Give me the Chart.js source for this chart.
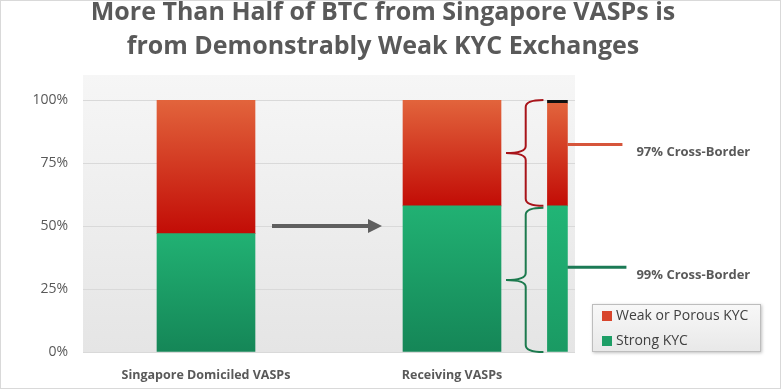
<!DOCTYPE html>
<html>
<head>
<meta charset="utf-8">
<script src="https://cdn.jsdelivr.net/npm/chart.js@4"></script>
<style>
  html, body { margin: 0; padding: 0; background: #fff; }
  #wrap { position: relative; width: 781px; height: 389px; }
</style>
</head>
<body>
<div id="wrap"><canvas id="chartKyc"></canvas></div>
<script>
// Dados
const categories = ["Singapore Domiciled VASPs", "Receiving VASPs"];
const strongKyc = [47, 58];
const weakKyc = [53, 42];
// barra fina: quebra dos VASPs receptores
const thinStrong = 58;
const thinWeakCrossBorder = 40.7;
const thinWeakDomestic = 1.3;
const crossBorderLabels = ["97% Cross-Border", "99% Cross-Border"];
const yTicks = [0, 25, 50, 75, 100];
const titleLines = [
  "More Than Half of BTC from Singapore VASPs is",
  "from Demonstrably Weak KYC Exchanges",
];

// posição das barras em "slots" do eixo de categorias
const SLOT_COUNT = 14;
const barSlots = [3, 10];
const thinSlot = 13;

const TEXT = "#595959";
const FONT = "'Open Sans', sans-serif";
const RED_TOP = "#e2643c", RED_BOTTOM = "#c20c06";
const GREEN_TOP = "#21b173", GREEN_BOTTOM = "#158657";

function slotArray(fill) {
  const arr = new Array(SLOT_COUNT).fill(null);
  fill(arr);
  return arr;
}

const labels = new Array(SLOT_COUNT).fill("");
barSlots.forEach((s, i) => (labels[s] = categories[i]));

function stackGradient(context, top, bottom) {
  if (context.type !== "data") return bottom;
  const chart = context.chart;
  const y = chart.scales.y;
  if (!y || !chart.chartArea) return bottom;
  const i = context.dataIndex;
  const d = context.datasetIndex;
  let base = 0;
  for (let k = 0; k < d; k++) base += chart.data.datasets[k].data[i] || 0;
  const v = chart.data.datasets[d].data[i] || 0;
  const y0 = y.getPixelForValue(base + v);
  const y1 = y.getPixelForValue(base);
  if (!isFinite(y0) || !isFinite(y1) || y0 === y1) return bottom;
  const g = chart.ctx.createLinearGradient(0, y0, 0, y1);
  g.addColorStop(0, top);
  g.addColorStop(1, bottom);
  return g;
}

function drawBrace(ctx, xEnd, xTip, y1, y2, color) {
  const xm = (xEnd + xTip) / 2 + 1;
  const ym = (y1 + y2) / 2;
  const r = 7;
  ctx.strokeStyle = color;
  ctx.lineWidth = 2;
  ctx.beginPath();
  ctx.moveTo(xEnd, y1);
  ctx.quadraticCurveTo(xm, y1, xm, y1 + r);
  ctx.lineTo(xm, ym - r);
  ctx.quadraticCurveTo(xm, ym, xTip, ym);
  ctx.quadraticCurveTo(xm, ym, xm, ym + r);
  ctx.lineTo(xm, y2 - r);
  ctx.quadraticCurveTo(xm, y2, xEnd, y2);
  ctx.stroke();
}

const decorPlugin = {
  id: "decor",
  beforeDraw(chart) {
    const { ctx, chartArea: a } = chart;
    ctx.save();
    ctx.fillStyle = "#fff";
    ctx.fillRect(0, 0, chart.width, chart.height);
    const g = ctx.createLinearGradient(0, a.top - 25, 0, a.bottom);
    g.addColorStop(0, "#f6f6f6");
    g.addColorStop(1, "#e5e5e5");
    ctx.fillStyle = g;
    ctx.fillRect(a.left, a.top - 25, a.right - a.left, a.bottom - a.top + 25);
    ctx.strokeStyle = "#d9d9d9";
    ctx.lineWidth = 1;
    ctx.strokeRect(0.5, 0.5, chart.width - 1, chart.height - 1);

    // título
    ctx.fillStyle = TEXT;
    ctx.font = "bold 25px " + FONT;
    ctx.textAlign = "center";
    ctx.textBaseline = "alphabetic";
    titleLines.forEach((t, i) => ctx.fillText(t, 383, 20 + i * 34));
    ctx.restore();
  },
  afterDatasetsDraw(chart) {
    const { ctx } = chart;
    const y = chart.scales.y;
    const bar1 = chart.getDatasetMeta(0).data[barSlots[0]];
    const bar2 = chart.getDatasetMeta(0).data[barSlots[1]];
    const thin = chart.getDatasetMeta(2).data[thinSlot];
    const thinTop = chart.getDatasetMeta(4).data[thinSlot];
    ctx.save();

    // seta cinza
    const ay = y.getPixelForValue(50);
    const ax0 = bar1.x + bar1.width / 2 + 17;
    const ax1 = bar2.x - bar2.width / 2 - 21;
    ctx.strokeStyle = "#5f5f5f";
    ctx.fillStyle = "#5f5f5f";
    ctx.lineWidth = 4;
    ctx.beginPath();
    ctx.moveTo(ax0, ay);
    ctx.lineTo(ax1 - 12, ay);
    ctx.stroke();
    ctx.beginPath();
    ctx.moveTo(ax1, ay);
    ctx.lineTo(ax1 - 14, ay - 7);
    ctx.lineTo(ax1 - 14, ay + 7);
    ctx.closePath();
    ctx.fill();

    // chaves
    const thinLeft = thin.x - thin.width / 2;
    const thinRight = thin.x + thin.width / 2;
    const bar2Right = bar2.x + bar2.width / 2;
    const split = thin.y;
    const top = thinTop.y;
    const bottom = y.getPixelForValue(0);
    drawBrace(ctx, thinLeft - 4, bar2Right + 5, top, split, "#a8141a");
    drawBrace(ctx, thinLeft - 4, bar2Right + 5, split + 2, bottom, "#1c7a4e");

    // conectores e rótulos
    const redY = top + 0.42 * (split - top);
    const greenY = split + 0.42 * (bottom - split);
    ctx.lineWidth = 3;
    ctx.strokeStyle = "#d6553b";
    ctx.beginPath();
    ctx.moveTo(thinRight, redY);
    ctx.lineTo(thinRight + 55, redY);
    ctx.stroke();
    ctx.strokeStyle = "#1b7a55";
    ctx.beginPath();
    ctx.moveTo(thinRight, greenY);
    ctx.lineTo(thinRight + 59, greenY);
    ctx.stroke();

    ctx.fillStyle = TEXT;
    ctx.font = "bold 13px " + FONT;
    ctx.textBaseline = "middle";
    ctx.textAlign = "left";
    ctx.fillText(crossBorderLabels[0], thinRight + 69, redY + 8);
    ctx.fillText(crossBorderLabels[1], thinRight + 69, greenY + 8);

    // legenda
    const lx = 592, ly = 304, lw = 169, lh = 48;
    ctx.shadowColor = "rgba(0,0,0,0.25)";
    ctx.shadowBlur = 3;
    ctx.shadowOffsetX = 1;
    ctx.shadowOffsetY = 1;
    const lg = ctx.createLinearGradient(0, ly, 0, ly + lh);
    lg.addColorStop(0, "#f8f8f8");
    lg.addColorStop(1, "#e8e8e8");
    ctx.fillStyle = lg;
    ctx.fillRect(lx, ly, lw, lh);
    ctx.shadowColor = "transparent";
    ctx.strokeStyle = "#bdbdbd";
    ctx.lineWidth = 1;
    ctx.strokeRect(lx + 0.5, ly + 0.5, lw - 1, lh - 1);
    const items = [
      { text: chart.data.datasets[1].label, color: "#d8452c" },
      { text: chart.data.datasets[0].label, color: "#1d9e66" },
    ];
    ctx.font = "14px " + FONT;
    items.forEach((it, i) => {
      const cy = ly + 12 + i * 25;
      ctx.fillStyle = it.color;
      ctx.fillRect(lx + 10, cy - 5, 10, 10);
      ctx.fillStyle = "#404040";
      ctx.fillText(it.text, lx + 24, cy);
    });
    ctx.restore();
  },
};

const ctxKyc = document.getElementById("chartKyc");
new Chart(ctxKyc.getContext("2d"), {
  type: "bar",
  data: {
    labels: labels,
    datasets: [
      {
        label: "Strong KYC",
        data: slotArray((a) => barSlots.forEach((s, i) => (a[s] = strongKyc[i]))),
        backgroundColor: (c) => stackGradient(c, GREEN_TOP, GREEN_BOTTOM),
        barThickness: 98,
      },
      {
        label: "Weak or Porous KYC",
        data: slotArray((a) => barSlots.forEach((s, i) => (a[s] = weakKyc[i]))),
        backgroundColor: (c) => stackGradient(c, RED_TOP, RED_BOTTOM),
        barThickness: 98,
      },
      {
        label: "Strong KYC (breakdown)",
        data: slotArray((a) => (a[thinSlot] = thinStrong)),
        backgroundColor: (c) => stackGradient(c, "#21b576", "#1a9a63"),
        barThickness: 20,
      },
      {
        label: "Weak or Porous KYC (cross-border)",
        data: slotArray((a) => (a[thinSlot] = thinWeakCrossBorder)),
        backgroundColor: (c) => stackGradient(c, RED_TOP, RED_BOTTOM),
        barThickness: 20,
      },
      {
        label: "Weak or Porous KYC (domestic)",
        data: slotArray((a) => (a[thinSlot] = thinWeakDomestic)),
        backgroundColor: "#111111",
        barThickness: 20,
      },
    ],
  },
  options: {
    responsive: true,
    maintainAspectRatio: false,
    animation: false,
    layout: { padding: { left: 8, right: 206, top: 100, bottom: 0 } },
    plugins: {
      legend: { display: false },
      tooltip: { enabled: false },
      title: { display: false },
    },
    scales: {
      x: {
        stacked: true,
        grid: { display: false },
        border: { display: false },
        afterFit: (s) => { s.height = 37; },
        ticks: {
          autoSkip: false,
          maxRotation: 0,
          minRotation: 0,
          padding: 8,
          color: TEXT,
          font: { family: FONT, size: 12.5, weight: "bold" },
        },
      },
      y: {
        stacked: true,
        min: 0,
        max: 100,
        afterFit: (s) => { s.width = 75; },
        afterBuildTicks: (s) => { s.ticks = yTicks.map((v) => ({ value: v })); },
        grid: { color: "#d9d9d9", drawTicks: false },
        border: { display: false },
        ticks: {
          padding: 15,
          color: TEXT,
          font: { family: FONT, size: 14 },
          callback: (v) => v + "%",
        },
      },
    },
  },
  plugins: [decorPlugin],
});
</script>
</body>
</html>
